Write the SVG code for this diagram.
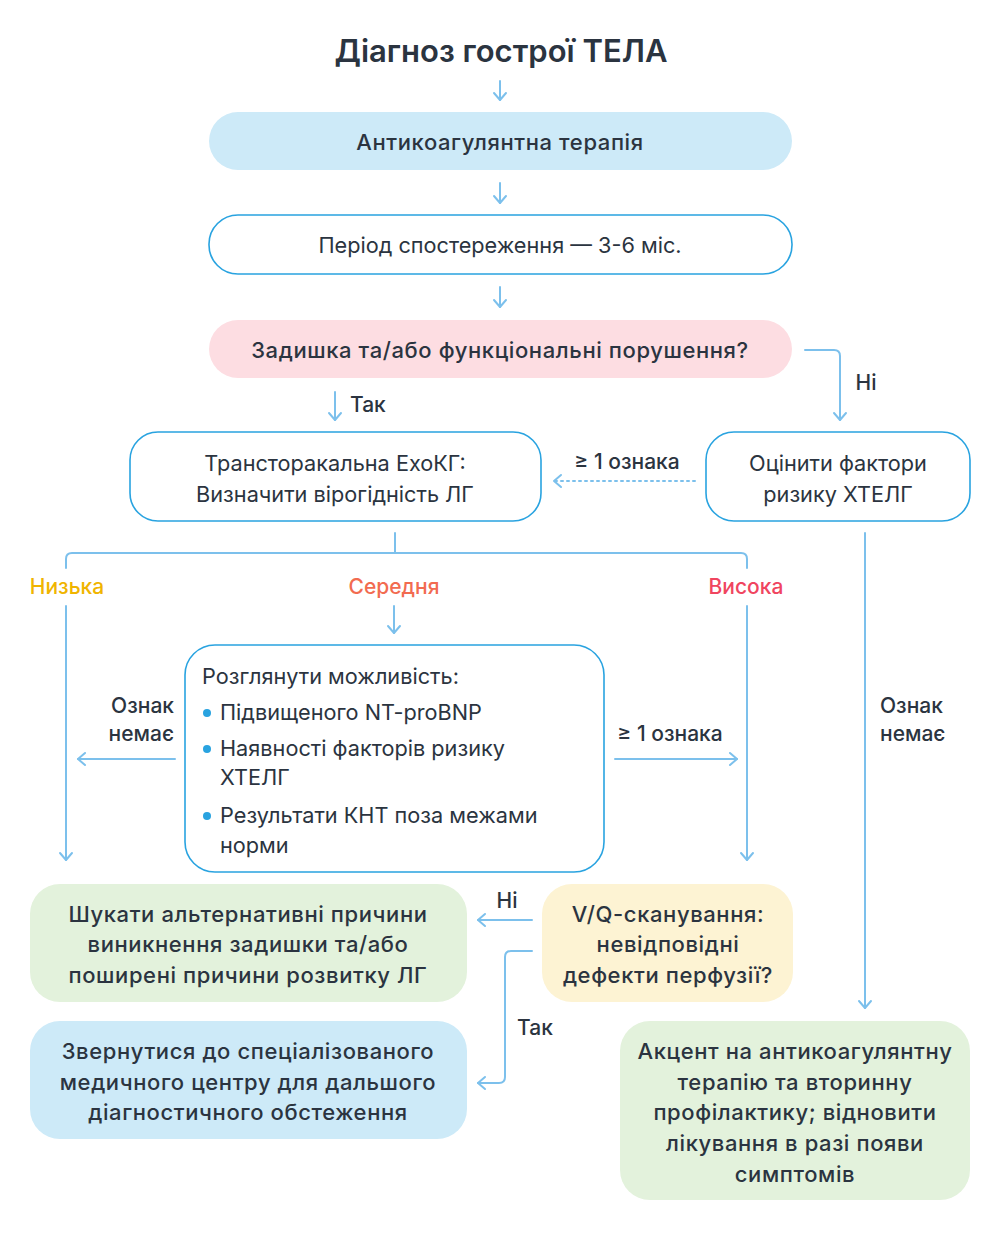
<svg xmlns="http://www.w3.org/2000/svg" width="1000" height="1244" viewBox="0 0 1000 1244">
<defs>
<marker id="ah" markerUnits="userSpaceOnUse" markerWidth="20" markerHeight="20" viewBox="-10 -10 20 20" refX="0" refY="0" orient="auto">
<path d="M-7,-6 L0,0 L-7,6" fill="none" stroke="#7cc0ec" stroke-width="2" stroke-linecap="round" stroke-linejoin="round"/>
</marker>
</defs>
<style>
text{font-family:Inter,"Noto Sans",sans-serif;fill:#2b3440;font-size:21.7px}
.t{font-size:31px;font-weight:600;text-anchor:middle}
.c{text-anchor:middle}
.m{font-weight:500;font-size:22px;letter-spacing:0.6px}
.lbl{font-size:21px;font-weight:500}
.w{fill:#ffffff;stroke:#29a3e0;stroke-width:1.6}
.blue{fill:#cdeaf8}
.pink{fill:#fddde2}
.green{fill:#e3f2dc}
.yellow{fill:#fdf3d3}
.cn{fill:none;stroke:#7cc0ec;stroke-width:2;stroke-linecap:round;stroke-linejoin:round}
.arr{marker-end:url(#ah)}
.dot{stroke-dasharray:2 4}
</style>
<rect width="1000" height="1244" fill="#ffffff"/>
<text class="t" x="501" y="62">Діагноз гострої ТЕЛА</text>

<g id="connectors">
<path class="cn arr" d="M500,81 V100"/>
<path class="cn arr" d="M500,183 V203"/>
<path class="cn arr" d="M500,287 V307"/>
<path class="cn arr" d="M335,392 V420"/>
<path class="cn arr" d="M805,350 H834 Q840,350 840,356 V420"/>
<path class="cn arr dot" d="M695,481 H554"/>
<path class="cn" d="M395,533 V553"/>
<path class="cn" d="M66,568 V559 Q66,553 72,553 H741 Q747,553 747,559 V568"/>
<path class="cn arr" d="M66,606 V860"/>
<path class="cn arr" d="M747,606 V860"/>
<path class="cn arr" d="M394,606 V633"/>
<path class="cn arr" d="M865,533 V1008"/>
<path class="cn arr" d="M175,759 H78"/>
<path class="cn arr" d="M615,759 H737"/>
<path class="cn arr" d="M532,920 H478"/>
<path class="cn arr" d="M532,951 H511 Q505,951 505,957 V1077 Q505,1083 499,1083 H478"/>
<text class="lbl" x="350" y="412">Так</text>
<text class="lbl c" x="866" y="390">Ні</text>
<text class="lbl c" x="627" y="469">≥ 1 ознака</text>
<text class="lbl c" x="67" y="594" style="fill:#f0b400">Низька</text>
<text class="lbl c" x="394" y="594" style="fill:#f26b50">Середня</text>
<text class="lbl c" x="746" y="594" style="fill:#f0455f">Висока</text>
<text class="lbl" x="174" y="713" text-anchor="end">Ознак</text>
<text class="lbl" x="174" y="741" text-anchor="end">немає</text>
<text class="lbl c" x="670" y="741">≥ 1 ознака</text>
<text class="lbl" x="880" y="713">Ознак</text>
<text class="lbl" x="880" y="741">немає</text>
<text class="lbl c" x="507" y="908">Ні</text>
<text class="lbl c" x="535" y="1035">Так</text>
</g>

<g id="n1"><rect class="blue" x="209" y="112" width="583" height="58" rx="29"/><text class="c m" x="500" y="150">Антикоагулянтна терапія</text></g>
<g id="n2"><rect class="w" x="209" y="215" width="583" height="59" rx="29"/><text class="c" x="500" y="253">Період спостереження — 3-6 міс.</text></g>
<g id="n3"><rect class="pink" x="209" y="320" width="583" height="58" rx="29"/><text class="c m" x="500" y="358">Задишка та/або функціональні порушення?</text></g>
<g id="n4"><rect class="w" x="130" y="432" width="411" height="89" rx="28"/><text class="c" x="335" y="471">Трансторакальна ЕхоКГ:</text><text class="c" x="335" y="502">Визначити вірогідність ЛГ</text></g>
<g id="n5"><rect class="w" x="706" y="432" width="264" height="89" rx="28"/><text class="c" x="838" y="471">Оцінити фактори</text><text class="c" x="838" y="502">ризику ХТЕЛГ</text></g>
<g id="n6"><rect class="w" x="185" y="645" width="419" height="227" rx="30"/>
<text x="202" y="684">Розглянути можливість:</text>
<circle cx="207" cy="713" r="4" fill="#29a3e0"/><text x="220" y="720">Підвищеного NT-proBNP</text>
<circle cx="207" cy="749" r="4" fill="#29a3e0"/><text x="220" y="756">Наявності факторів ризику</text>
<text x="220" y="785">ХТЕЛГ</text>
<circle cx="207" cy="816" r="4" fill="#29a3e0"/><text x="220" y="823">Результати КНТ поза межами</text>
<text x="220" y="853">норми</text>
</g>
<g id="n7"><rect class="green" x="30" y="884" width="437" height="118" rx="30"/><text class="c m" x="248" y="922">Шукати альтернативні причини</text><text class="c m" x="248" y="952">виникнення задишки та/або</text><text class="c m" x="248" y="983">поширені причини розвитку ЛГ</text></g>
<g id="n8"><rect class="yellow" x="542" y="884" width="251" height="118" rx="30"/><text class="c m" x="668" y="922">V/Q-сканування:</text><text class="c m" x="668" y="952">невідповідні</text><text class="c m" x="668" y="983">дефекти перфузії?</text></g>
<g id="n9"><rect class="blue" x="30" y="1021" width="437" height="118" rx="30"/><text class="c m" x="248" y="1059">Звернутися до спеціалізованого</text><text class="c m" x="248" y="1090">медичного центру для дальшого</text><text class="c m" x="248" y="1120">діагностичного обстеження</text></g>
<g id="n10"><rect class="green" x="620" y="1021" width="350" height="179" rx="30"/><text class="c m" x="795" y="1059">Акцент на антикоагулянтну</text><text class="c m" x="795" y="1090">терапію та вторинну</text><text class="c m" x="795" y="1120">профілактику; відновити</text><text class="c m" x="795" y="1151">лікування в разі появи</text><text class="c m" x="795" y="1182">симптомів</text></g>
</svg>
